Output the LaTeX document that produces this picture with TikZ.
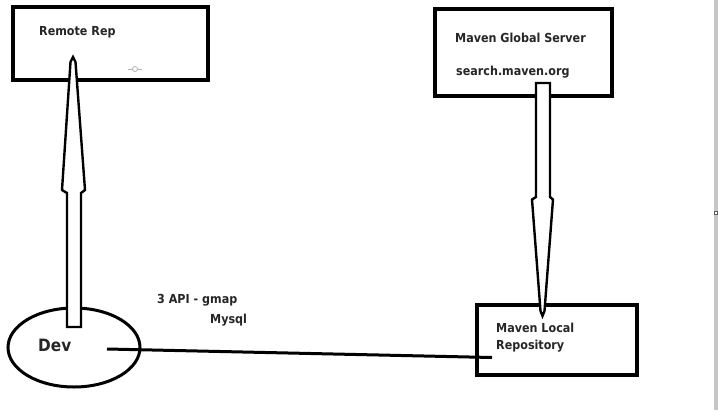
\documentclass[tikz,border=0pt]{standalone}
\usepackage{fontspec}
\setmainfont{DejaVu Sans Condensed}
\usetikzlibrary{shapes.geometric}
\begin{document}
\begin{tikzpicture}[x=1pt,y=-1pt,
  boxstyle/.style={draw=black,line width=4pt,inner sep=0pt},
  lbl/.style={anchor=west,inner sep=0pt,font=\bfseries\fontsize{12.4}{15}\selectfont,text=black!85},
  blockarrow/.style={draw=black,line width=2.4pt,fill=white,line join=miter}]
\useasboundingbox (0,0) rectangle (718,410);
\fill[white] (0,0) rectangle (718,410);
% right screen edge
\fill[gray!45] (714,0) rectangle (718,410);
\node[draw=gray!70!black,fill=white,line width=0.6pt,minimum size=3pt,inner sep=0pt] (edgemark) at (715.5,213) {};
% boxes
\node[boxstyle,minimum width=195pt,minimum height=73pt] (remote) at (110.5,43.5) {};
\node[boxstyle,minimum width=177pt,minimum height=87pt] (global) at (523.5,52.5) {};
\node[boxstyle,minimum width=160pt,minimum height=70pt] (local) at (557,340) {};
\node[draw=black,line width=3pt,ellipse,minimum width=132pt,minimum height=79pt,inner sep=0pt] (dev) at (74,347.5) {};
% texts
\node[lbl] (tremote) at (39,32) {Remote Rep};
\node[lbl] (tglobal) at (455,38) {Maven Global Server};
\node[lbl] (tsearch) at (456,72) {search.maven.org};
\node[lbl] (tlocal1) at (496,328) {Maven Local};
\node[lbl] (tlocal2) at (496,346) {Repository};
\node[lbl,font=\bfseries\fontsize{17}{20}\selectfont] (tdev) at (38,345) {Dev};
\node[lbl] (tapi) at (157,300) {3 API - gmap};
\node[lbl] (tmysql) at (210,320) {Mysql};
% small cursor mark
\draw[gray!60,line width=0.8pt] (128,69) -- (132.5,69) (137.5,69) -- (142,69);
\draw[gray!60,line width=0.8pt] (135,69) circle (2.5pt);
% up block arrow (Dev -> Remote Rep)
\draw[blockarrow] (67,327) -- (67,193) -- (62,190) -- (70.5,62) -- (73,57) -- (75.5,62) -- (85,190) -- (81,193) -- (81,327) -- cycle;
% down block arrow (Global -> Local)
\draw[blockarrow] (536,83) -- (536,197) -- (532,199.5) -- (540.5,311) -- (542.5,316) -- (544.5,311) -- (553,199.5) -- (550,197) -- (550,83) -- cycle;
% connector Dev -- Local
\coordinate (devend) at (107,349);
\coordinate (localend) at (492,357.5);
\draw[line width=3pt] (devend) -- (localend);
\end{tikzpicture}
\end{document}
